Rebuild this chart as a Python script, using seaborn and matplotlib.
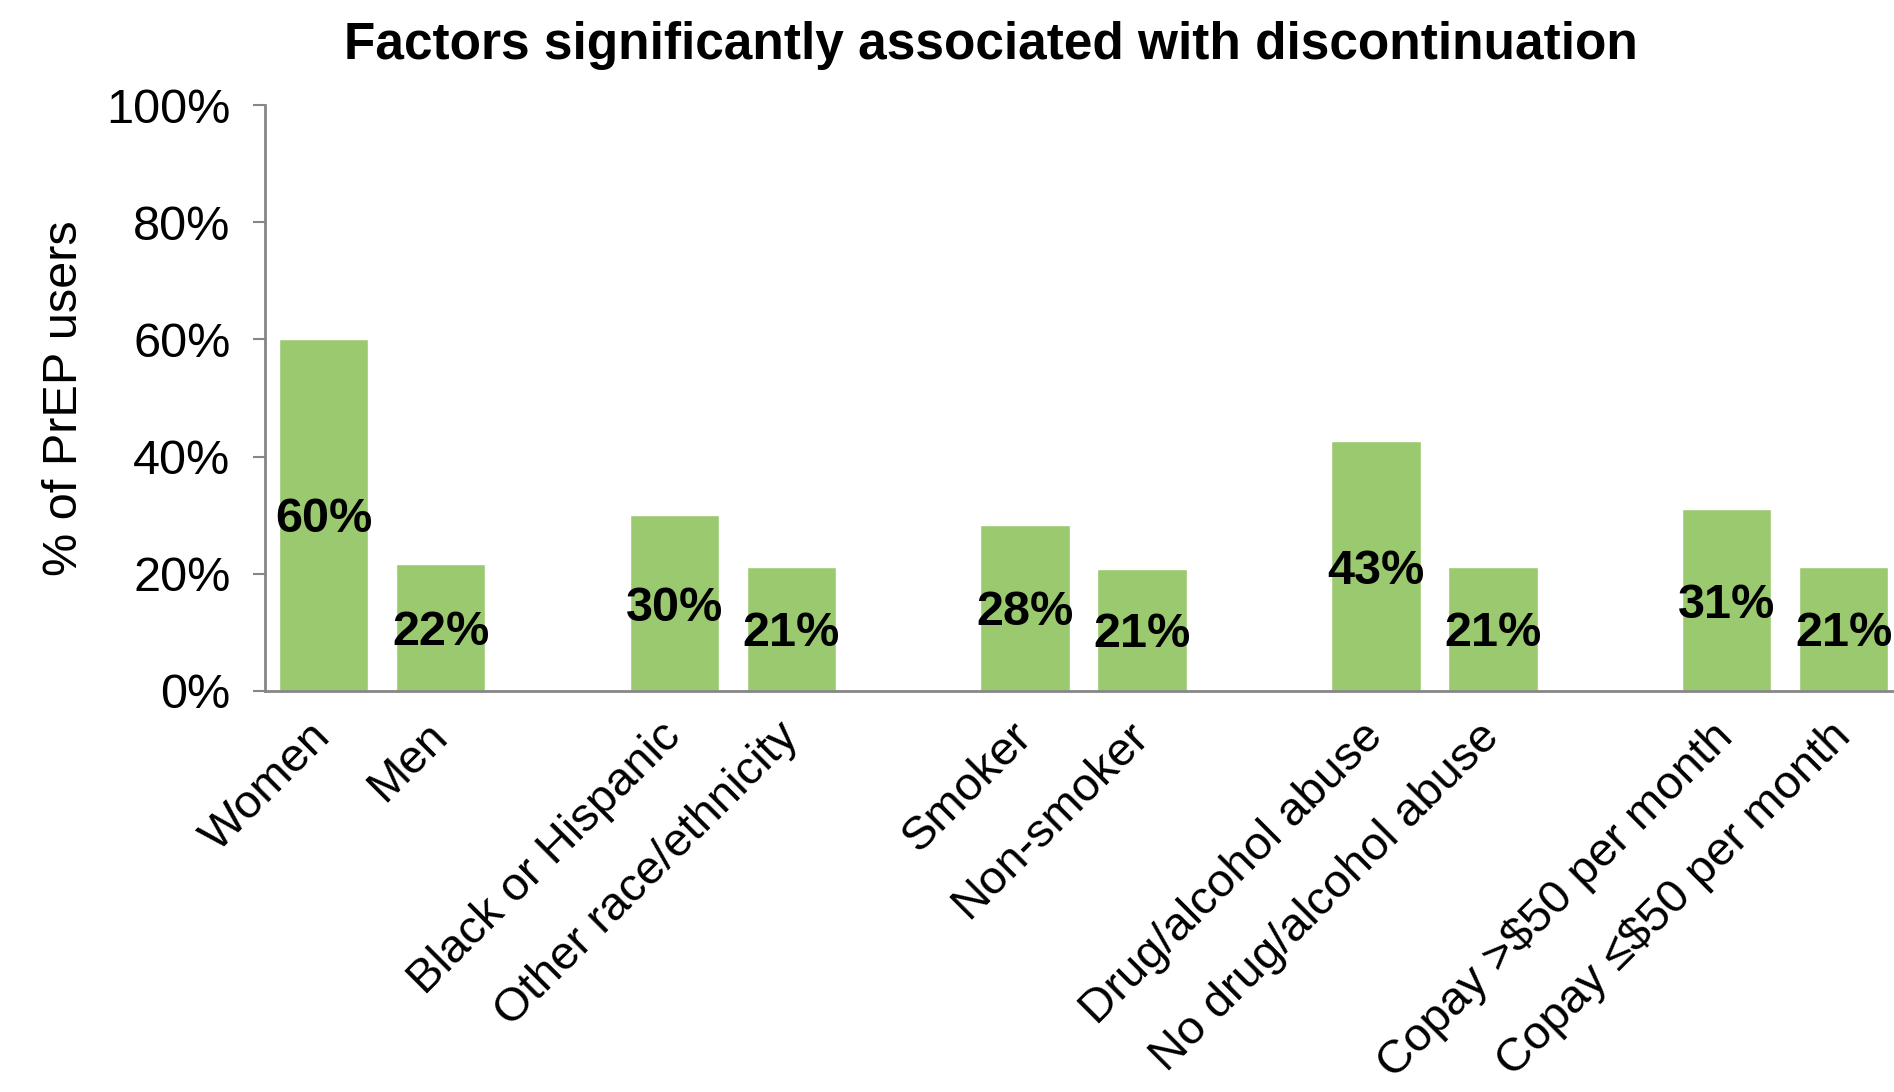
import numpy as np
import pandas as pd
import matplotlib
matplotlib.use('Agg')
import matplotlib.pyplot as plt
import seaborn as sns
from matplotlib.ticker import FuncFormatter

# bar categories, two per factor
categories = ['Women', 'Men',
              'Black or Hispanic', 'Other race/ethnicity',
              'Smoker', 'Non-smoker',
              'Drug/alcohol abuse', 'No drug/alcohol abuse',
              'Copay >$50 per month', 'Copay \u2264$50 per month']
values = [60.1, 21.6, 30.0, 21.2, 28.4, 20.8, 42.6, 21.2, 31.0, 21.2]
yticks = [0, 20, 40, 60, 80, 100]

title = 'Factors significantly associated with discontinuation'
ylabel = '% of PrEP users'

bar_color = '#9BC96F'
axis_color = '#868686'

sns.set_theme(style='white')
plt.rcParams['font.family'] = ['Liberation Sans', 'DejaVu Sans']
plt.rcParams['text.parse_math'] = False
plt.rcParams['text.color'] = 'black'

df = pd.DataFrame({'category': categories, 'value': values})

# empty slot between each pair of bars
order = []
for i, c in enumerate(categories):
    order.append(c)
    if i % 2 == 1 and i < len(categories) - 1:
        order.append(' ' * (i // 2 + 1))

fig = plt.figure(figsize=(18.94, 10.92), dpi=100)
ax = fig.add_axes([0.140, 0.3673, 0.8643, 0.5365])

sns.barplot(data=df, x='category', y='value', order=order, color=bar_color,
            width=0.765, saturation=1, ax=ax)

ax.set_xlim(-0.5, len(order) - 0.5)
ax.set_ylim(0, 100)
ax.set_yticks(yticks)
ax.yaxis.set_major_formatter(FuncFormatter(lambda v, p: f'{v:.0f}%'))
ax.tick_params(axis='y', labelsize=35, length=9, width=1.5, color=axis_color,
               pad=16, left=True, labelcolor='black')
ax.tick_params(axis='x', labelsize=34, length=0, pad=28, labelcolor='black')
plt.setp(ax.get_xticklabels(), rotation=45, ha='right', va='center',
         rotation_mode='anchor')

for side in ['top', 'right']:
    ax.spines[side].set_visible(False)
for side in ['left', 'bottom']:
    ax.spines[side].set_color(axis_color)
    ax.spines[side].set_linewidth(2)

ax.set_xlabel('')
ax.set_ylabel(ylabel, fontsize=35, labelpad=14, color='black')

labels = [f'{v:.0f}%' for v in values]
texts = ax.bar_label(ax.containers[0], labels=labels, label_type='center',
                     fontsize=35, fontweight='bold', color='black')
for t in texts:
    t.set_va('center_baseline')

fig.text(0.523, 0.958, title, ha='center', va='center', fontsize=37,
         fontweight='bold', color='black')

fig.savefig('out.png', dpi=100)
